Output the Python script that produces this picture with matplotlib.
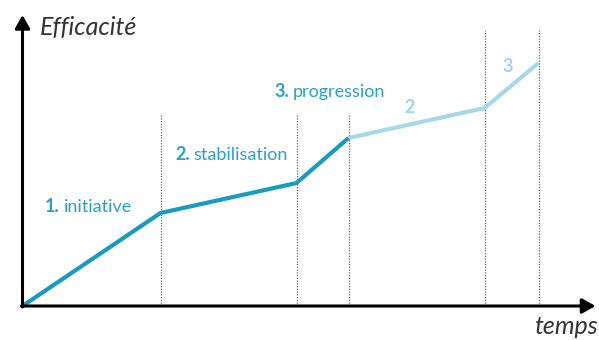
import matplotlib
matplotlib.use("Agg")
import matplotlib.pyplot as plt

# Data (arbitrary units: time vs efficacy)
times = [0, 138, 274, 326, 462, 516]
efficacy = [0, 93, 123, 168, 198, 243]
phase_nums = ["1.", "2.", "3."]
phase_names = ["initiative", "stabilisation", "progression"]
repeat_labels = ["2", "3"]

DARK = "#1a9abd"
LIGHT = "#a6d8e9"
TXT = "#2a9fc2"
TXT_LIGHT = "#a0d4e7"

fig = plt.figure(figsize=(5.99, 3.40), dpi=100)
ax = fig.add_axes([0, 0, 1, 1])
ax.set_xlim(-22.5, 576.5)
ax.set_ylim(-34, 306)
ax.axis("off")

FONT = ["Lato", "DejaVu Sans"]

# dotted guides
tops = [192, 192, 192, 276, 276]
for t, top in zip(times[1:], tops):
    ax.plot([t, t], [0, top], color="#666666", lw=0.9, ls=(0, (1, 1.2)), zorder=1)

# curve
ax.plot(times[:4], efficacy[:4], color=DARK, lw=3.0, solid_capstyle="butt",
        solid_joinstyle="miter", zorder=3)
ax.plot(times[3:], efficacy[3:], color=LIGHT, lw=3.0, solid_capstyle="butt",
        solid_joinstyle="miter", zorder=2)

# axes with arrows
ax.annotate("", xy=(573, 0), xytext=(-1, 0),
            arrowprops=dict(arrowstyle="-|>,head_length=0.8,head_width=0.45",
                            color="black", lw=2.2, shrinkA=0, shrinkB=0), zorder=4)
ax.annotate("", xy=(0, 291), xytext=(0, -1),
            arrowprops=dict(arrowstyle="-|>,head_length=0.8,head_width=0.45",
                            color="black", lw=2.2, shrinkA=0, shrinkB=0), zorder=4)

ax.text(17.5, 271, "Efficacité", fontsize=18, style="italic", color="#333333",
        family=FONT, va="baseline", ha="left")
ax.text(575, -28, "temps", fontsize=18, style="italic", color="#333333",
        family=FONT, va="baseline", ha="right")

# phase labels
label_pos = [(22.5, 94), (152.5, 146), (251.5, 209)]
fig.canvas.draw()
r = fig.canvas.get_renderer()
for (x, y), n, name in zip(label_pos, phase_nums, phase_names):
    t1 = ax.text(x, y, n, fontsize=13, fontweight="bold", color=TXT,
                 family=FONT, va="baseline", ha="left")
    bb = t1.get_window_extent(renderer=r)
    x2 = ax.transData.inverted().transform((bb.x1 + 4, 0))[0]
    ax.text(x2, y, name, fontsize=13, color=TXT, family=FONT,
            va="baseline", ha="left")

rep_pos = [(387.5, 193), (485.5, 234)]
for (x, y), s in zip(rep_pos, repeat_labels):
    ax.text(x, y, s, fontsize=13, fontweight="bold", color=TXT_LIGHT,
            family=FONT, va="baseline", ha="center")

fig.savefig("out.png", dpi=100)
